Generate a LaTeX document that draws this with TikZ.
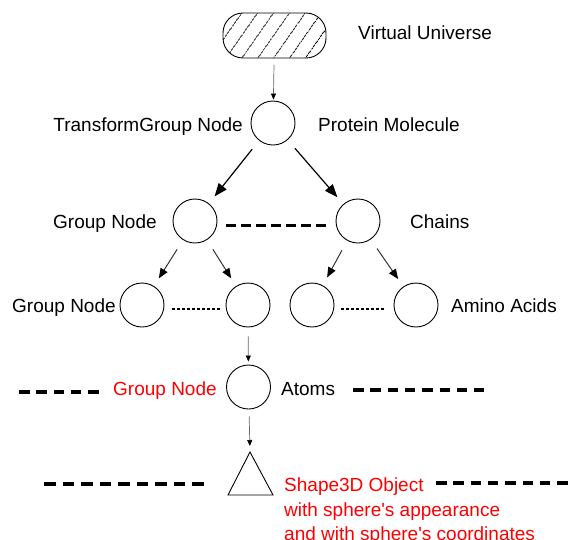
\documentclass[tikz,border=0pt]{standalone}
\usepackage{fontspec}
\setmainfont{Liberation Sans}
\usetikzlibrary{arrows.meta,patterns.meta}
\begin{document}
\begin{tikzpicture}[x=1pt,y=-1pt,
  every node/.style={font=\fontsize{19}{24}\selectfont},
  circ/.style={draw, circle, minimum size=44pt, inner sep=0pt, line width=0.9pt},
  lbl/.style={anchor=base west, inner sep=0pt},
  lblr/.style={anchor=base east, inner sep=0pt},
  redlbl/.style={lbl, text=red},
  bigarr/.style={line width=1.2pt, -{Triangle[length=13pt,width=10pt]}, shorten <=11pt, shorten >=9pt},
  medarr/.style={line width=1pt, draw=black!80, -{Triangle[length=10pt,width=8pt,color=black]}, shorten <=11pt, shorten >=9pt},
  thinarr/.style={line width=0.7pt, draw=black!60, -{Triangle[length=6pt,width=5pt,color=black]}},
  bigdash/.style={line width=3.2pt, dash pattern=on 10.5pt off 6.8pt},
  middash/.style={line width=3pt, dash pattern=on 10pt off 5pt},
  dotline/.style={line width=1.5pt, dash pattern=on 3pt off 2pt},
]
\useasboundingbox (0,0) rectangle (568,539);

% nodes
\node[draw, line width=0.9pt, minimum width=103pt, minimum height=45pt, rounded corners=20pt,
      pattern={Lines[angle=55,distance=13pt,line width=0.9pt]}] (vu) at (274.5,35.5) {};
\node[circ] (tg) at (273,123) {};
\node[circ] (gn) at (195,221) {};
\node[circ] (ch) at (358,221) {};
\node[circ] (c1) at (142,305) {};
\node[circ] (c2) at (248,305) {};
\node[circ] (c3) at (312,305) {};
\node[circ] (c4) at (416,305) {};
\node[circ] (at) at (248.5,387) {};
\coordinate (tri) at (250,452);
\draw[line width=0.9pt] (tri) -- (228,495) -- (273,495) -- cycle;

% labels
\node[lbl] (lvu) at (358,39) {Virtual Universe};
\node[lblr] (ltg) at (243,131) {TransformGroup Node};
\node[lbl] (lpm) at (318,131) {Protein Molecule};
\node[lbl] (lgn) at (53,228) {Group Node};
\node[lbl] (lch) at (410,228) {Chains};
\node[lbl] (lgn3) at (12,312) {Group Node};
\node[lbl] (laa) at (451,312) {Amino Acids};
\node[redlbl] (lgnr) at (113,395) {Group Node};
\node[lbl] (lat) at (281,395) {Atoms};
\node[redlbl] (ls1) at (284,491.5) {Shape3D Object};
\node[redlbl] (ls2) at (284,516.5) {with sphere\textquotesingle s appearance};
\node[redlbl] (ls3) at (284,540.5) {and with sphere\textquotesingle s coordinates};

% connectors
\draw[thinarr, shorten <=6.5pt, shorten >=1pt] (vu) -- (tg);
\draw[bigarr] (tg) -- (gn);
\draw[bigarr] (tg) -- (ch);
\draw[medarr] (gn) -- (c1);
\draw[medarr] (gn) -- (c2);
\draw[medarr] (ch) -- (c3);
\draw[medarr] (ch) -- (c4);
\draw[thinarr, shorten <=9pt, shorten >=3pt] (c2) -- (at);
\draw[thinarr, shorten <=7pt, shorten >=6pt] (at) -- (tri);

% dashed links
\draw[middash, shorten <=9pt, shorten >=8pt] ([yshift=-4pt]gn.east) -- ([yshift=-4pt]ch.west);
\draw[dotline, shorten <=8pt, shorten >=6pt] ([yshift=-4pt]c1.east) -- ([yshift=-4pt]c2.west);
\draw[dotline, shorten <=7pt, shorten >=8pt] ([yshift=-4pt]c3.east) -- ([yshift=-4pt]c4.west);

% level separators
\draw[bigdash] (19,392) -- (100,392);
\draw[bigdash] (353,390) -- (484,390);
\draw[bigdash, dash pattern=on 11.5pt off 7pt] (44,484) -- (204,484);
\draw[bigdash] (436,483) -- (575,483);
\end{tikzpicture}
\end{document}
